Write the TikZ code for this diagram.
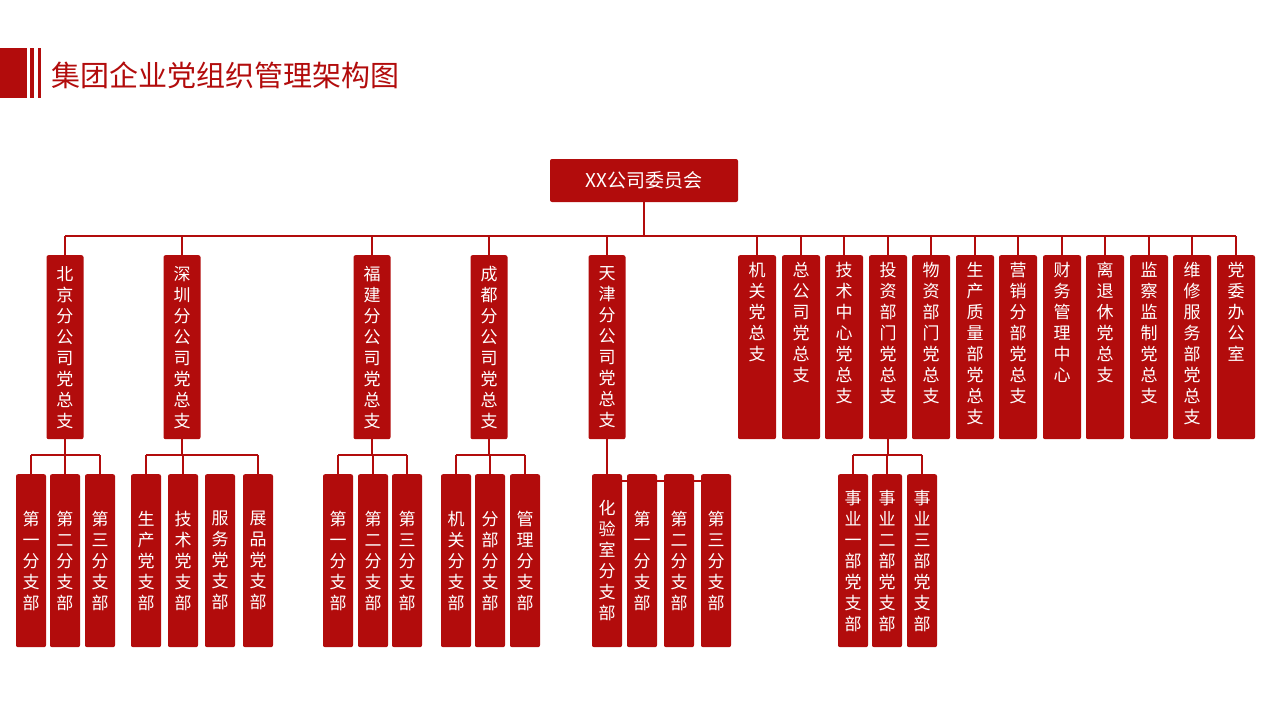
\documentclass[tikz,border=0pt]{standalone}
\usepackage{fontspec}
\setmainfont{Noto Sans CJK SC}
\usetikzlibrary{backgrounds,calc}
\XeTeXlinebreaklocale "zh"
\XeTeXlinebreakskip=0pt plus 1pt
\definecolor{dred}{RGB}{178,12,12}
\tikzset{
 x=1pt,y=-1pt,
 box/.style={fill=dred,rounded corners=2pt,inner sep=0pt,text=white,align=center,font=\fontsize{17}{21}\selectfont},
 ltwo/.style={box,anchor=north,minimum width=37,minimum height=184,text width=18},
 rtwo/.style={box,anchor=north,minimum width=38,minimum height=184},
 rtxt/.style={anchor=north,inner sep=0pt,text=white,align=center,text width=18,font=\fontsize{17}{21}\selectfont},
 lthree/.style={box,anchor=north,minimum width=30,minimum height=173,text width=18},
 conn/.style={draw=dred,line width=2pt},
}
\begin{document}
\begin{tikzpicture}
\useasboundingbox (0,0) rectangle (1280,720);
% header
\fill[dred] (0,48) rectangle (27,98);
\fill[dred] (30,48) rectangle (34,98);
\fill[dred] (38,48) rectangle (41,98);
\node[anchor=west,text=dred,font=\fontsize{29}{32}\selectfont,inner sep=0pt] (title) at (51,75) {集团企业党组织管理架构图};
% top
\node[box,minimum width=188,minimum height=43,font=\fontsize{19}{22}\selectfont,text width=] (top) at (644,180.5) {XX公司委员会};
\coordinate (bus) at (0,236);
% level 2 left
\node[ltwo] (bj) at (65,255) {北京分公司党总支};
\node[ltwo] (sz) at (182,255) {深圳分公司党总支};
\node[ltwo] (fj) at (372,255) {福建分公司党总支};
\node[ltwo] (cd) at (489,255) {成都分公司党总支};
\node[ltwo] (tj) at (607,255) {天津分公司党总支};
% level 2 right
\foreach \n/\x/\t in {r1/757/机关党总支,r2/801/总公司党总支,r3/844/技术中心党总支,r4/888/投资部门党总支,r5/931/物资部门党总支,r6/975/生产质量部党总支,r7/1018/营销分部党总支,r8/1062/财务管理中心,r9/1105/离退休党总支,r10/1149/监察监制党总支,r11/1192/维修服务部党总支,r12/1236/党委办公室}{
 \node[rtwo] (\n) at (\x,255) {};
 \node[rtxt] at ($(\n.north)+(0,7)$) {\t};
}
% level 3
\foreach \n/\x/\t in {a1/31/第一分支部,a2/65/第二分支部,a3/100/第三分支部,
 b1/146/生产党支部,b2/183/技术党支部,b3/220/服务党支部,b4/258/展品党支部,
 c1/338/第一分支部,c2/373/第二分支部,c3/407/第三分支部,
 d1/456/机关分支部,d2/490/分部分支部,d3/525/管理分支部,
 e1/607/化验室分支部,e2/642/第一分支部,e3/679/第二分支部,e4/716/第三分支部,
 f1/853/事业一部党支部,f2/887/事业二部党支部,f3/922/事业三部党支部}{
 \node[lthree] (\n) at (\x,474) {\t};
}
\begin{scope}[on background layer]
\draw[conn] (top.south) -- (top.south|-bus);
\draw[conn] (bj.north|-bus) -- (r12.north|-bus);
\foreach \n in {bj,sz,fj,cd,tj,r1,r2,r3,r4,r5,r6,r7,r8,r9,r10,r11,r12}{\draw[conn] (\n.north) -- (\n.north|-bus);}
\coordinate (b3) at (0,455);
\foreach \p/\cs/\f/\l in {bj/{a1,a2,a3}/a1/a3,sz/{b1,b2,b3,b4}/b1/b4,fj/{c1,c2,c3}/c1/c3,cd/{d1,d2,d3}/d1/d3,r4/{f1,f2,f3}/f1/f3}{
 \draw[conn] (\p.south) -- (\p.south|-b3);
 \draw[conn] (\f.north|-b3) -- (\l.north|-b3);
 \foreach \c in \cs {\draw[conn] (\c.north) -- (\c.north|-b3);}
}
\draw[conn] (tj.south) -- (e1.north);
\draw[conn] ($(e1.north)+(0,7)$) -- ($(e4.north)+(0,7)$);
\end{scope}
\end{tikzpicture}
\end{document}
